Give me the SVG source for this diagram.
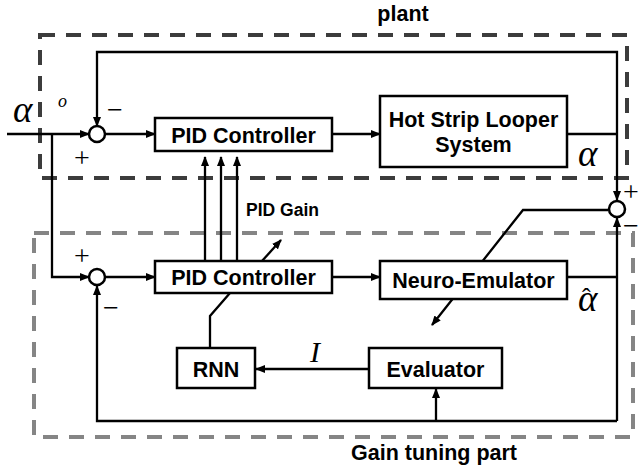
<svg xmlns="http://www.w3.org/2000/svg" width="640" height="471" viewBox="0 0 640 471">
<defs>
<marker id="ah" markerUnits="userSpaceOnUse" markerWidth="10" markerHeight="8" refX="9" refY="4" orient="auto">
<path d="M0,0 L10,4 L0,8 Z" fill="#000"/>
</marker>
<style>
.box{fill:#fff;stroke:#000;stroke-width:2.5}
.ln{fill:none;stroke:#000;stroke-width:2.3}
.arr{fill:none;stroke:#000;stroke-width:2.3;marker-end:url(#ah)}
.sum{fill:#fff;stroke:#000;stroke-width:2.5}
.lbl{font-family:"Liberation Sans",Arial,sans-serif;font-weight:bold;font-size:21.5px;fill:#000;text-anchor:middle}
.small{font-family:"Liberation Sans",Arial,sans-serif;font-weight:bold;font-size:17.5px;fill:#000}
.math{font-family:"Liberation Serif","Times New Roman",serif;font-style:italic;fill:#000}
.sign{font-family:"Liberation Serif","Times New Roman",serif;font-size:28px;fill:#000;text-anchor:middle;dominant-baseline:central}
.plantb{fill:none;stroke:#3c3c3c;stroke-width:4;stroke-dasharray:15 11}
.gainb{fill:none;stroke:#858585;stroke-width:4;stroke-dasharray:15 11}
</style>
</defs>
<rect width="640" height="471" fill="#fff"/>

<g id="plant-region">
<rect class="plantb" x="40" y="35" width="587" height="143"/>
<text class="lbl" x="403" y="21">plant</text>
</g>
<g id="gain-region">
<rect class="gainb" x="34" y="233" width="599" height="204"/>
<text class="lbl" x="434" y="460">Gain tuning part</text>
</g>

<g id="connectors">
<path class="arr" d="M7,134 H89"/>
<path class="arr" d="M617,134 V52 H97 V126"/>
<path class="arr" d="M617,134 V200"/>
<path class="ln" d="M567,134 H617"/>
<path class="arr" d="M105,134 H155"/>
<path class="arr" d="M332,134 H380"/>
<path class="arr" d="M52,134 V277 H89"/>
<path class="arr" d="M105,277 H155"/>
<path class="arr" d="M332,277 H380"/>
<path class="ln" d="M567,277 H617"/>
<path class="arr" d="M617,421 V218"/>
<path class="arr" d="M617,421 H97 V286"/>
<path class="arr" d="M436,421 V389"/>
<path class="arr" d="M369,369 H256"/>
<path class="ln" d="M210,348 V316 L230,293"/>
<path class="arr" d="M205,261 V157"/>
<path class="arr" d="M221,261 V157"/>
<path class="arr" d="M237,261 V157"/>
<path class="arr" d="M262,261 L281,240"/>
<path class="arr" d="M608,210 H523 L432,325"/>
<text class="small" x="246" y="216">PID Gain</text>
<text class="math" x="310" y="362" font-size="30">I</text>
</g>

<g id="sum1">
<circle class="sum" cx="97" cy="134" r="8"/>
<text class="sign" x="82" y="157">+</text>
<text class="sign" x="115" y="109">−</text>
</g>
<g id="sum2">
<circle class="sum" cx="97" cy="277" r="8"/>
<text class="sign" x="82" y="255">+</text>
<text class="sign" x="111" y="307">−</text>
</g>
<g id="sum3">
<circle class="sum" cx="617" cy="209" r="8"/>
<text class="sign" x="631" y="191">+</text>
<text class="sign" x="631" y="225">−</text>
</g>

<g id="pid1">
<rect class="box" x="155" y="118" width="177" height="33"/>
<text class="lbl" x="243.5" y="143">PID Controller</text>
</g>
<g id="looper">
<rect class="box" x="380" y="96" width="187" height="71"/>
<text class="lbl" x="473.5" y="127">Hot Strip Looper</text>
<text class="lbl" x="473.5" y="152">System</text>
</g>
<g id="pid2">
<rect class="box" x="155" y="261" width="177" height="32"/>
<text class="lbl" x="243.5" y="285">PID Controller</text>
</g>
<g id="emulator">
<rect class="box" x="380" y="261" width="187" height="38"/>
<text class="lbl" x="473.5" y="288">Neuro-Emulator</text>
</g>
<g id="rnn">
<rect class="box" x="177" y="348" width="78" height="40"/>
<text class="lbl" x="216" y="377">RNN</text>
</g>
<g id="evaluator">
<rect class="box" x="369" y="348" width="133" height="40"/>
<text class="lbl" x="435.5" y="377">Evaluator</text>
</g>

<g id="math-labels">
<text class="math" x="13" y="122" font-size="37">α</text>
<text class="math" x="58" y="107" font-size="18">o</text>
<text class="math" x="578" y="166" font-size="37">α</text>
<text class="math" x="578" y="311" font-size="37">α<tspan x="582" y="306" font-size="26" font-style="normal">ˆ</tspan></text>
</g>
</svg>
